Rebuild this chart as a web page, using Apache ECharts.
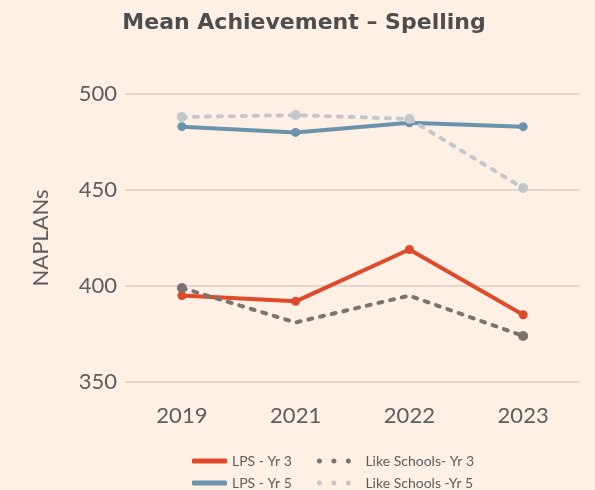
<!DOCTYPE html>
<html>
<head>
<meta charset="utf-8">
<script src="https://cdn.jsdelivr.net/npm/echarts@6/dist/echarts.min.js"></script>
<style>
  html, body { margin: 0; padding: 0; background: #fef0e4; }
  #main { width: 595px; height: 490px; }
</style>
</head>
<body>
<div id="main"></div>
<script>
// data
const years = ['2019', '2021', '2022', '2023'];
const lpsYr3 = [395, 392, 419, 385];
const lpsYr5 = [483, 480, 485, 483];
const likeYr3 = [399, 381, 395, 374];
const likeYr5 = [488, 489, 487, 451];

const names = ['LPS - Yr 3', 'LPS - Yr 5', 'Like Schools- Yr 3', 'Like Schools -Yr 5'];
const colors = ['#df4a2b', '#6b93ab', '#79746f', '#c4c7c9'];

// three dots for the dotted legend icons
const dotsIcon = 'path://M0,2.5a2.5,2.5 0 1,0 5,0a2.5,2.5 0 1,0 -5,0z' +
  'M14.5,2.5a2.5,2.5 0 1,0 5,0a2.5,2.5 0 1,0 -5,0z' +
  'M29,2.5a2.5,2.5 0 1,0 5,0a2.5,2.5 0 1,0 -5,0z';

const txt = '#5d5d5d';

const solid = (name, data, color) => ({
  name, type: 'line', data,
  symbol: 'circle', symbolSize: 9,
  lineStyle: { width: 4, color },
  itemStyle: { color },
  z: 2
});
const dotted = (name, data, color, hidePts) => ({
  name, type: 'line',
  // the dark grey line only marks its end points
  data: data.map((v, i) => (hidePts && hidePts.includes(i)) ? { value: v, symbol: 'none' } : v),
  symbol: 'circle', symbolSize: 10,
  lineStyle: { width: 4, color, type: [4, 8], cap: 'round' },
  itemStyle: { color },
  z: 3
});

const legendBase = {
  left: 192,
  padding: 0,
  itemWidth: 35,
  itemHeight: 5,
  itemGap: 25,
  textStyle: { fontFamily: 'Lato', fontSize: 14, color: txt },
  selectedMode: false
};

const chart = echarts.init(document.getElementById('main'));
chart.setOption({
  backgroundColor: '#fef0e4',
  animation: false,
  color: colors,
  title: {
    text: 'Mean Achievement \u2013 Spelling',
    left: 299,
    textAlign: 'center',
    top: 7,
    textStyle: { fontFamily: 'DejaVu Sans', fontWeight: 'bold', fontSize: 22, color: '#4d4d4d' }
  },
  legend: [
    Object.assign({}, legendBase, {
      top: 454,
      data: [
        { name: names[0], icon: 'roundRect' },
        { name: names[2], icon: dotsIcon, textStyle: { padding: [0, 0, 0, 9] } }
      ]
    }),
    Object.assign({}, legendBase, {
      top: 476,
      data: [
        { name: names[1], icon: 'roundRect' },
        { name: names[3], icon: dotsIcon, textStyle: { padding: [0, 0, 0, 9] } }
      ]
    })
  ],
  grid: { left: 125, right: 15, top: 94, bottom: 108 },
  xAxis: {
    type: 'category',
    data: years,
    boundaryGap: true,
    axisLine: { show: false },
    axisTick: { show: false },
    axisLabel: { fontFamily: 'Lato', fontSize: 22, color: txt, margin: 23 }
  },
  yAxis: {
    type: 'value',
    min: 350,
    max: 500,
    interval: 50,
    name: 'NAPLANs',
    nameLocation: 'middle',
    nameGap: 73,
    nameTextStyle: { fontFamily: 'Lato', fontSize: 22, color: txt },
    axisLine: { show: false },
    axisTick: { show: false },
    axisLabel: { fontFamily: 'Lato', fontSize: 22, color: txt, margin: 8 },
    splitLine: { lineStyle: { color: '#dccfc4', width: 1.5 } }
  },
  series: [
    solid(names[0], lpsYr3, colors[0]),
    solid(names[1], lpsYr5, colors[1]),
    dotted(names[2], likeYr3, colors[2], [1, 2]),
    dotted(names[3], likeYr5, colors[3])
  ]
});
</script>
</body>
</html>
